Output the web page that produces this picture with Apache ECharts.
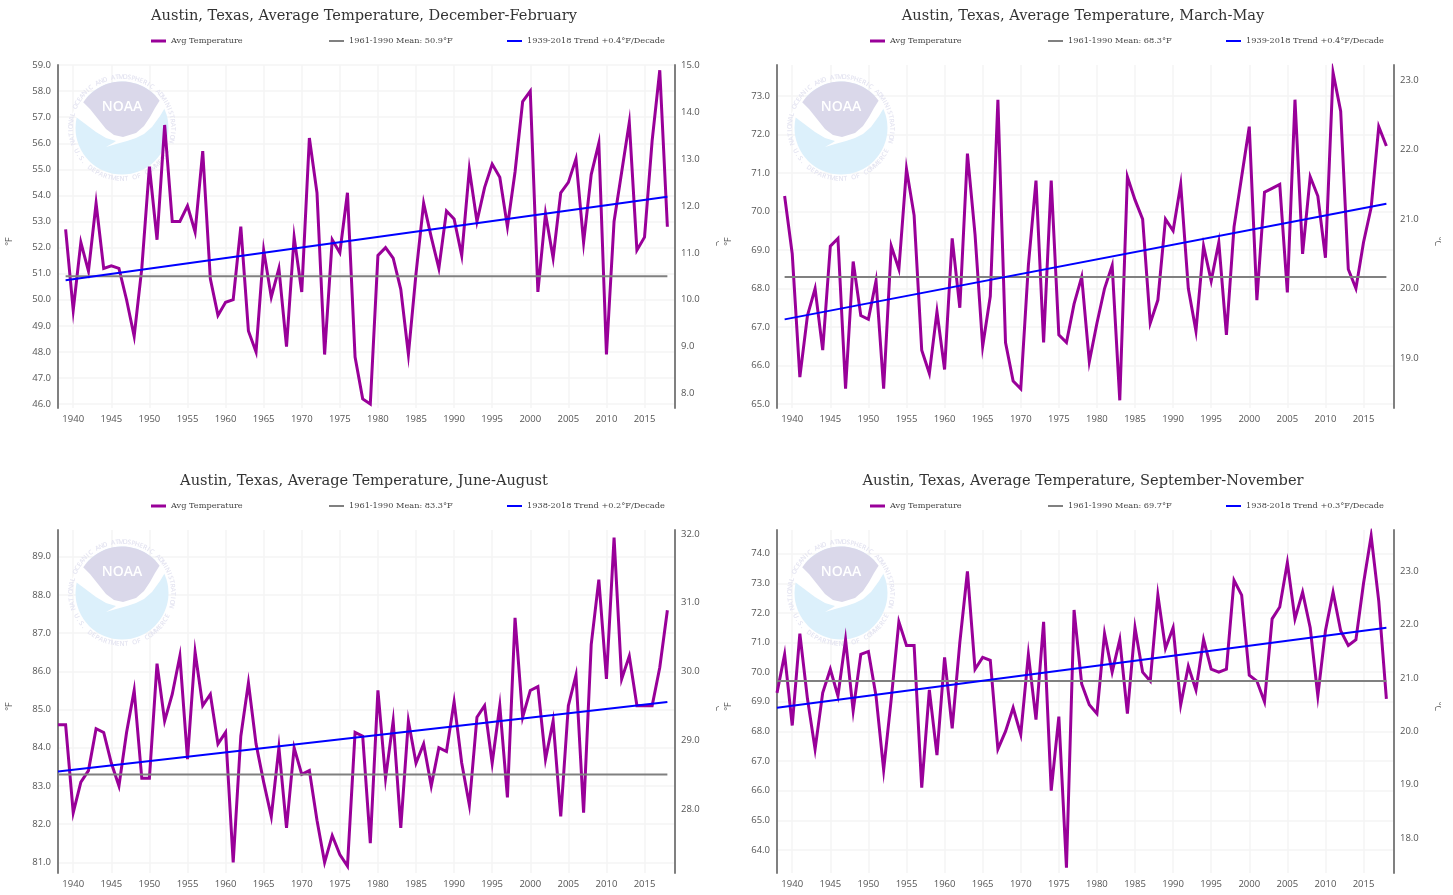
<!DOCTYPE html>
<html>
<head>
<meta charset="utf-8">
<title>Austin, Texas, Average Temperature</title>
<script src="https://cdn.jsdelivr.net/npm/echarts@6/dist/echarts.min.js"></script>
<style>
html, body { margin: 0; padding: 0; background: #fff; overflow: hidden; }
.panel { position: absolute; width: 722px; }
</style>
</head>
<body>
<div id="djf" class="panel" style="left:0;top:0;height:465px"></div>
<div id="mam" class="panel" style="left:719px;top:0;height:465px"></div>
<div id="jja" class="panel" style="left:0;top:465px;height:430px"></div>
<div id="son" class="panel" style="left:719px;top:465px;height:430px"></div>

<script>
// years on the x axis, first panel value belongs to 1938
var years = []
for (var y = 1938; y <= 2019; y++) years.push(String(y))

var djfTemps = [null, 52.7, 49.6, 52.2, 51.1, 53.7, 51.2, 51.3, 51.2, 50.0, 48.6, 51.2, 55.1, 52.3, 56.7, 53.0, 53.0, 53.6, 52.6, 55.7,
  50.8, 49.4, 49.9, 50.0, 52.8, 48.8, 48.0, 51.9, 50.1, 51.2, 48.2, 52.4, 50.3, 56.2, 54.1, 47.9, 52.3, 51.8, 54.1, 47.8,
  46.2, 46.0, 51.7, 52.0, 51.6, 50.4, 47.9, 51.0, 53.7, 52.4, 51.2, 53.4, 53.1, 51.7, 55.0, 53.0, 54.3, 55.2, 54.7, 52.8,
  54.9, 57.6, 58.0, 50.3, 53.3, 51.6, 54.1, 54.5, 55.4, 52.2, 54.8, 56.0, 47.9, 53.0, 54.9, 56.8, 51.9, 52.4, 56.1, 58.8, 52.8]

var mamTemps = [null, 70.4, 68.9, 65.7, 67.3, 68.0, 66.4, 69.1, 69.3, 65.4, 68.7, 67.3, 67.2, 68.2, 65.4, 69.1, 68.5, 71.1, 69.9, 66.4,
  65.8, 67.4, 65.9, 69.3, 67.5, 71.5, 69.4, 66.5, 67.8, 72.9, 66.6, 65.6, 65.4, 68.6, 70.8, 66.6, 70.8, 66.8, 66.6, 67.6,
  68.3, 66.1, 67.1, 68.0, 68.6, 65.1, 70.9, 70.3, 69.8, 67.1, 67.7, 69.8, 69.5, 70.7, 68.0, 66.9, 69.1, 68.2, 69.2, 66.8,
  69.6, 70.9, 72.2, 67.7, 70.5, 70.6, 70.7, 67.9, 72.9, 68.9, 70.9, 70.4, 68.8, 73.6, 72.6, 68.5, 68.0, 69.2, 70.1, 72.2, 71.7]

var jjaTemps = [84.6, 84.6, 82.3, 83.1, 83.4, 84.5, 84.4, 83.6, 83.0, 84.4, 85.5, 83.2, 83.2, 86.2, 84.7, 85.4, 86.4, 83.7, 86.5, 85.1,
  85.4, 84.1, 84.4, 81.0, 84.3, 85.7, 84.1, 83.1, 82.2, 84.0, 81.9, 84.0, 83.3, 83.4, 82.1, 81.0, 81.7, 81.2, 80.9, 84.4,
  84.3, 81.5, 85.5, 83.2, 84.7, 81.9, 84.7, 83.6, 84.1, 83.0, 84.0, 83.9, 85.2, 83.6, 82.5, 84.8, 85.1, 83.6, 85.1, 82.7,
  87.4, 84.8, 85.5, 85.6, 83.7, 84.7, 82.2, 85.1, 85.9, 82.3, 86.7, 88.4, 85.8, 89.5, 85.8, 86.4, 85.1, 85.1, 85.1, 86.1, 87.6]

var sonTemps = [69.3, 70.6, 68.2, 71.3, 69.1, 67.4, 69.3, 70.1, 69.2, 71.1, 68.7, 70.6, 70.7, 69.2, 66.7, 69.1, 71.7, 70.9, 70.9, 66.1,
  69.4, 67.2, 70.5, 68.1, 71.0, 73.4, 70.1, 70.5, 70.4, 67.4, 68.0, 68.8, 67.9, 70.6, 68.4, 71.7, 66.0, 68.5, 63.4, 72.1,
  69.6, 68.9, 68.6, 71.3, 70.0, 71.1, 68.6, 71.5, 70.0, 69.7, 72.6, 70.8, 71.5, 68.9, 70.2, 69.4, 71.1, 70.1, 70.0, 70.1,
  73.1, 72.6, 69.9, 69.7, 69.0, 71.8, 72.2, 73.7, 71.8, 72.7, 71.5, 69.2, 71.4, 72.7, 71.4, 70.9, 71.1, 73.0, 74.6, 72.4, 69.1]

var djfTrend = [['1939', 50.75], ['2018', 53.95]]
var mamTrend = [['1939', 67.2], ['2018', 70.2]]
var jjaTrend = [['1938', 83.38], ['2018', 85.2]]
var sonTrend = [['1938', 68.8], ['2018', 71.5]]

var djfMean = [['1939', 50.9], ['2018', 50.9]]
var mamMean = [['1939', 68.3], ['2018', 68.3]]
var jjaMean = [['1938', 83.3], ['2018', 83.3]]
var sonMean = [['1938', 69.7], ['2018', 69.7]]

var djfTicksF = [46, 47, 48, 49, 50, 51, 52, 53, 54, 55, 56, 57, 58, 59]
var mamTicksF = [65, 66, 67, 68, 69, 70, 71, 72, 73]
var jjaTicksF = [81, 82, 83, 84, 85, 86, 87, 88, 89]
var sonTicksF = [64, 65, 66, 67, 68, 69, 70, 71, 72, 73, 74]

var djfTicksC = [8, 9, 10, 11, 12, 13, 14, 15]
var mamTicksC = [19, 20, 21, 22, 23]
var jjaTicksC = [28, 29, 30, 31, 32]
var sonTicksC = [18, 19, 20, 21, 22, 23]

var TITLE_FONT = '"DejaVu Serif", serif'
var LABEL_FONT = '"Open Sans", sans-serif'
var PURPLE = '#990099'
var GREY = '#808080'
var BLUE = '#0000ff'
var GRID_LINE = '#f4f4f4'
var RING_TOP = 'NATIONAL OCEANIC AND ATMOSPHERIC ADMINISTRATION'
var RING_BOTTOM = 'U.S. DEPARTMENT OF COMMERCE'

// outlines of the seal, relative to its centre
var WING_OUTLINE = [[-50, -14], [-40, -30], [40, -32], [44, -22], [38, -12], [30, -1], [22, 6], [14, 10], [5, 13], [-6, 16], [-16, 19],
  [-9, 15], [-6, 13], [-16, 10], [-26, 4], [-38, -5]]
var DOME_LOWER = [[38, -28], [33, -20], [28, -11], [22, -2], [14, 5], [1, 9], [-8, 7], [-16, 1], [-24, -9], [-32, -19], [-39, -26]]

function toC(f) {
  return (f - 32) / 1.8
}

function shift(points, cx, cy) {
  return points.map(function (p) { return [p[0] + cx, p[1] + cy] })
}

// top of the dome follows the circle, the rest is the bird's back
function domeOutline() {
  var pts = []
  for (var a = -56; a <= 54; a += 5) {
    var rad = a * Math.PI / 180
    pts.push([46.5 * Math.sin(rad), -46.5 * Math.cos(rad)])
  }
  return pts.concat(DOME_LOWER)
}

// letters placed one by one around the seal
function ringText(text, cx, cy, r, middle, step, flip) {
  var out = []
  for (var i = 0; i < text.length; i++) {
    var deg = middle + (i - (text.length - 1) / 2) * step * (flip ? -1 : 1)
    var rad = deg * Math.PI / 180
    out.push({
      type: 'text',
      z: 1,
      silent: true,
      x: cx + r * Math.sin(rad),
      y: cy - r * Math.cos(rad),
      rotation: -(flip ? rad - Math.PI : rad),
      style: { text: text[i], fill: '#e4e4f1', font: '600 6.5px "Open Sans"', align: 'center', verticalAlign: 'middle' }
    })
  }
  return out
}

function noaaLogo(cx, cy) {
  var shapes = [
    { type: 'circle', z: 1, silent: true, shape: { cx: cx, cy: cy, r: 46.5 }, style: { fill: '#dcf0fb' } },
    { type: 'polygon', z: 1, silent: true, shape: { points: shift(WING_OUTLINE, cx, cy) }, style: { fill: '#ffffff' } },
    { type: 'polygon', z: 1, silent: true, shape: { points: shift(domeOutline(), cx, cy) }, style: { fill: '#dad8ea' } },
    {
      type: 'text', z: 1, silent: true, x: cx, y: cy - 21,
      style: { text: 'NOAA', fill: '#ffffff', font: '600 14px "Open Sans"', align: 'center', verticalAlign: 'middle' }
    }
  ]
  return shapes
    .concat(ringText(RING_TOP, cx, cy, 51, -1, 4.6, false))
    .concat(ringText(RING_BOTTOM, cx, cy, 51, 180, 4.85, true))
}

function legendItem(name, left, top, height) {
  return {
    data: [name],
    left: left,
    top: top,
    icon: 'rect',
    itemWidth: 15,
    itemHeight: height,
    selectedMode: false,
    padding: 0,
    itemGap: 0,
    textStyle: { fontFamily: TITLE_FONT, fontSize: 8.2, color: '#444' }
  }
}

function drawPanel(id, cfg) {
  var myChart = echarts.init(document.getElementById(id))
  var gridTop = 65
  var gridHeight = 343
  var legendTop = 37
  var meanName = cfg.meanLabel
  var trendName = cfg.trendLabel
  myChart.setOption({
    animation: false,
    backgroundColor: '#fff',
    title: {
      text: cfg.title,
      left: 364,
      textAlign: 'center',
      top: 9,
      padding: 0,
      textStyle: { fontFamily: TITLE_FONT, fontSize: 14.6, fontWeight: 'normal', color: '#333' }
    },
    legend: [
      legendItem('Avg Temperature', 151, legendTop, 3),
      legendItem(meanName, 329, legendTop, 2),
      legendItem(trendName, 507, legendTop, 2)
    ],
    grid: { left: 58, width: 617, top: gridTop, height: gridHeight, outerBoundsMode: 'none' },
    xAxis: {
      type: 'category',
      data: years,
      boundaryGap: false,
      axisLine: { show: false },
      axisTick: { show: false },
      axisLabel: {
        interval: function (i, v) { return +v % 5 === 0 },
        fontFamily: LABEL_FONT, fontSize: 9.5, color: '#555', margin: 6
      },
      splitLine: {
        show: true,
        interval: function (i, v) { return +v % 5 === 0 },
        lineStyle: { color: GRID_LINE, width: 1.5 }
      }
    },
    yAxis: [
      {
        type: 'value',
        min: cfg.fMin,
        max: cfg.fMax,
        name: '°F',
        nameLocation: 'middle',
        nameRotate: 90,
        nameGap: 44,
        nameTextStyle: { fontFamily: LABEL_FONT, fontSize: 9, color: '#555', padding: [0, 10, 0, 0] },
        axisLine: { show: true, onZero: false, lineStyle: { color: GREY, width: 2 } },
        axisTick: { show: false, customValues: cfg.ticksF },
        axisLabel: {
          customValues: cfg.ticksF,
          formatter: function (v) { return v.toFixed(1) },
          fontFamily: LABEL_FONT, fontSize: 9.5, color: '#555', margin: 7
        },
        splitLine: { show: true, lineStyle: { color: GRID_LINE, width: 1.5 } }
      },
      {
        type: 'value',
        position: 'right',
        min: toC(cfg.fMin),
        max: toC(cfg.fMax),
        name: '°C',
        nameLocation: 'middle',
        nameRotate: -90,
        nameGap: 39,
        nameTextStyle: { fontFamily: LABEL_FONT, fontSize: 9, color: '#555', padding: [0, 0, 0, 10] },
        axisLine: { show: true, onZero: false, lineStyle: { color: GREY, width: 2 } },
        axisTick: { show: false, customValues: cfg.ticksC },
        axisLabel: {
          customValues: cfg.ticksC,
          formatter: function (v) { return v.toFixed(1) },
          fontFamily: LABEL_FONT, fontSize: 9.5, color: '#555', margin: 6
        },
        splitLine: { show: false }
      }
    ],
    series: [
      {
        name: 'Avg Temperature',
        type: 'line',
        data: cfg.temps,
        symbol: 'none',
        z: 2,
        itemStyle: { color: PURPLE },
        lineStyle: { color: PURPLE, width: 3, join: 'miter', miterLimit: 10 }
      },
      {
        name: meanName,
        type: 'line',
        data: cfg.mean,
        symbol: 'none',
        z: 3,
        itemStyle: { color: GREY },
        lineStyle: { color: GREY, width: 2 }
      },
      {
        name: trendName,
        type: 'line',
        data: cfg.trend,
        symbol: 'none',
        z: 4,
        itemStyle: { color: BLUE },
        lineStyle: { color: BLUE, width: 2 }
      }
    ],
    graphic: noaaLogo(122, 128)
  })
  return myChart
}

drawPanel('djf', {
  title: 'Austin, Texas, Average Temperature, December-February',
  fMin: 45.85, fMax: 59,
  temps: djfTemps, trend: djfTrend, mean: djfMean, ticksF: djfTicksF, ticksC: djfTicksC,
  meanLabel: '1961-1990 Mean: 50.9°F', trendLabel: '1939-2018 Trend +0.4°F/Decade'
})
drawPanel('mam', {
  title: 'Austin, Texas, Average Temperature, March-May',
  fMin: 64.9, fMax: 73.8,
  temps: mamTemps, trend: mamTrend, mean: mamMean, ticksF: mamTicksF, ticksC: mamTicksC,
  meanLabel: '1961-1990 Mean: 68.3°F', trendLabel: '1939-2018 Trend +0.4°F/Decade'
})
drawPanel('jja', {
  title: 'Austin, Texas, Average Temperature, June-August',
  fMin: 80.72, fMax: 89.7,
  temps: jjaTemps, trend: jjaTrend, mean: jjaMean, ticksF: jjaTicksF, ticksC: jjaTicksC,
  meanLabel: '1961-1990 Mean: 83.3°F', trendLabel: '1938-2018 Trend +0.2°F/Decade'
})
drawPanel('son', {
  title: 'Austin, Texas, Average Temperature, September-November',
  fMin: 63.22, fMax: 74.8,
  temps: sonTemps, trend: sonTrend, mean: sonMean, ticksF: sonTicksF, ticksC: sonTicksC,
  meanLabel: '1961-1990 Mean: 69.7°F', trendLabel: '1938-2018 Trend +0.3°F/Decade'
})
</script>
</body>
</html>
